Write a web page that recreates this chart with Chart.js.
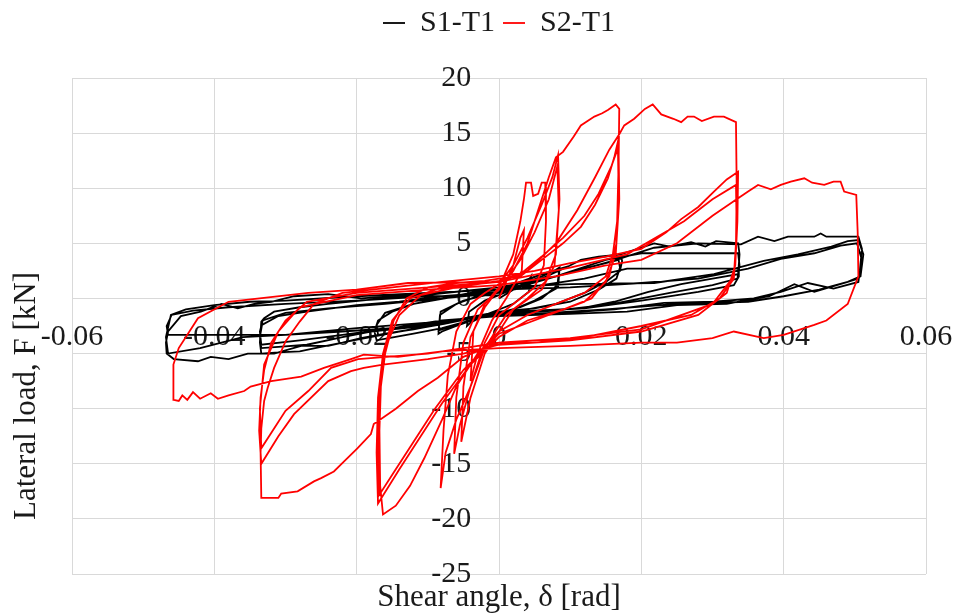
<!DOCTYPE html>
<html>
<head>
<meta charset="utf-8">
<title>Lateral load vs shear angle</title>
<script src="https://cdn.jsdelivr.net/npm/chart.js@4.4.1/dist/chart.umd.min.js"></script>
<style>
  html, body { margin: 0; padding: 0; background: #fff; }
</style>
</head>
<body>
<canvas id="chart" width="957" height="614"></canvas>
<script>
// axis ticks
const xTickValues = [-0.06, -0.04, -0.02, 0, 0.02, 0.04, 0.06];
const xTickLabels = ['-0.06', '-0.04', '-0.02', '0', '0.02', '0.04', '0.06'];
const yTickValues = [-25, -20, -15, -10, -5, 0, 5, 10, 15, 20];
const yTickLabels = ['-25', '-20', '-15', '-10', '-5', '0', '5', '10', '15', '20'];

const xTitle = 'Shear angle, \u03b4 [rad]';
const yTitle = 'Lateral load, F [kN]';

// S1-T1: [shear angle, load]
const s1Small = [
  [0, 0], [0.002, 0.8], [0.004, 1.5], [0.0045, 2], [0.0042, 0.6], [0.002, -0.5], [0, -1],
  [-0.002, -1.5], [-0.004, -2.2], [-0.0045, -2.5], [-0.0042, -1.2], [-0.002, -0.2], [0, 0.3],
  [0.003, 1.2], [0.006, 2], [0.008, 2.6], [0.0085, 2.8], [0.0082, 1.2], [0.006, 0], [0.003, -0.8],
  [0, -1.3], [-0.003, -1.8], [-0.006, -2.5], [-0.008, -3], [-0.0085, -3.2], [-0.0083, -1.5],
  [-0.006, -0.5], [-0.003, 0.2], [0, 0.6],
  [0.003, 1.4], [0.006, 2.2], [0.0085, 2.6], [0.0083, 1], [0.005, -0.2], [0.002, -1], [-0.002, -1.6],
  [-0.005, -2.2], [-0.0085, -2.9], [-0.0082, -1.2], [-0.005, -0.2], [0, 0.6]
];
const s1Mid = [
  [0.003, 1.5], [0.006, 2.2], [0.0097, 2.9], [0.0115, 3.5], [0.014, 3.8], [0.0171, 4], [0.0173, 3.4],
  [0.017, 2.5], [0.015, 1.5], [0.012, 0.5], [0.008, -0.5], [0.004, -1], [0, -1.3], [-0.004, -2],
  [-0.008, -2.7], [-0.012, -3.2], [-0.0155, -3.6], [-0.0172, -3.8], [-0.0175, -3], [-0.017, -2],
  [-0.015, -1.2], [-0.012, -0.5], [-0.008, 0], [-0.004, 0.5], [0, 0.8],
  [0.004, 1.3], [0.008, 2], [0.012, 2.7], [0.015, 3.2], [0.0168, 3.5], [0.017, 2.8], [0.0165, 1.8],
  [0.014, 0.8], [0.01, -0.3], [0.005, -0.9], [0, -1.2], [-0.005, -1.8], [-0.01, -2.5], [-0.014, -3],
  [-0.017, -3.3], [-0.0172, -2.4], [-0.016, -1.3], [-0.012, -0.5], [-0.006, 0.2], [0, 0.6],
  [0.005, 1.5], [0.0097, 2.9], [0.0115, 3.5], [0.0171, 4], [0.0218, 5], [0.024, 4.7], [0.027, 5.1],
  [0.029, 4.7], [0.0305, 5.2], [0.0336, 5], [0.0338, 4], [0.0336, 2.2], [0.03, 1.8], [0.0256, 1.3],
  [0.021, 0.6], [0.0162, -0.3], [0.0115, -0.9], [0.0021, -1.2], [-0.004, -1.8], [-0.008, -2.3],
  [-0.012, -2.8], [-0.016, -3.2], [-0.0194, -3.6], [-0.022, -4], [-0.025, -4.4], [-0.028, -4.8],
  [-0.031, -4.9], [-0.0334, -5], [-0.0336, -4], [-0.0334, -2.1], [-0.033, -1.8], [-0.0316, -1.2],
  [-0.028, -0.8], [-0.024, -0.5], [-0.018, -0.1], [-0.012, 0.2], [-0.006, 0.6], [0, 1],
  [0.008, 2], [0.015, 3.5], [0.02, 4.1], [0.028, 4.1], [0.0336, 4.1], [0.0338, 3], [0.0335, 1.8],
  [0.03, 1.2], [0.024, 0.5], [0.016, -0.5], [0.008, -1.1], [0, -1.4], [-0.006, -2], [-0.012, -2.6],
  [-0.018, -3], [-0.022, -3.5], [-0.027, -4.2], [-0.031, -4.4], [-0.0334, -4.5], [-0.0336, -3.5],
  [-0.0333, -2.4], [-0.031, -1.6], [-0.027, -1.2], [-0.02, -0.6], [-0.014, -0.3], [-0.008, 0.2], [0, 0.6],
  [0.006, 1.2], [0.012, 1.8], [0.018, 2.7], [0.025, 2.7], [0.0336, 2.7], [0.0337, 2], [0.033, 1.2],
  [0.028, 0.6], [0.02, -0.2], [0.012, -0.9], [0, -1.3], [-0.008, -2.2], [-0.015, -2.7], [-0.022, -3.3],
  [-0.028, -3.8], [-0.0334, -4.2], [-0.0336, -3], [-0.0332, -2], [-0.03, -1.3], [-0.024, -0.9],
  [-0.016, -0.5], [-0.008, 0], [0, 0.5]
];
const s1Large = [
  [0.008, 2], [0.016, 3.4], [0.0218, 4.6], [0.028, 5], [0.034, 4.9], [0.0364, 5.6], [0.0387, 5.2],
  [0.0406, 5.6], [0.0443, 5.6], [0.0452, 5.9], [0.046, 5.6], [0.0505, 5.6], [0.051, 4.5], [0.0507, 2.5],
  [0.0505, 1.5], [0.047, 0.9], [0.0434, 1.4], [0.0396, 0.6], [0.0358, 0], [0.0302, -0.3], [0.0232, -0.4],
  [0.0162, -1], [0.0069, -1.4], [-0.0015, -1.5], [-0.0077, -2.3], [-0.014, -3], [-0.0212, -3.9],
  [-0.024, -4.3], [-0.0278, -4.3], [-0.0316, -5], [-0.0353, -5], [-0.038, -5.5], [-0.0405, -5.3],
  [-0.0423, -5.7], [-0.0457, -5.5], [-0.0467, -5], [-0.0468, -4], [-0.0465, -3], [-0.0447, -1.6],
  [-0.0419, -1.2], [-0.039, -0.5], [-0.0367, -0.9], [-0.0344, -0.5], [-0.032, -0.3], [-0.0288, 0.2],
  [-0.024, 0.4], [-0.0194, 0], [-0.0148, 0.2], [-0.01, 0.4], [-0.0063, 0.6], [0, 1],
  [0.01, 1.3], [0.0218, 1.4], [0.0302, 2.2], [0.0372, 3.4], [0.042, 4], [0.0467, 4.7], [0.049, 5.2],
  [0.0505, 5.3], [0.0512, 4], [0.0508, 2], [0.049, 1.5], [0.0443, 0.6], [0.0415, 1.3], [0.038, 0.2],
  [0.032, -0.5], [0.025, -0.6], [0.018, -1.2], [0.01, -1.4], [0, -1.6], [-0.008, -2], [-0.015, -2.7],
  [-0.022, -3], [-0.03, -3.3], [-0.036, -3.5], [-0.042, -4.5], [-0.0465, -5], [-0.0468, -3.5],
  [-0.0461, -1.5], [-0.044, -1], [-0.04, -0.6], [-0.035, -0.3], [-0.03, -0.2], [-0.02, 0.2],
  [-0.01, 0.5], [0, 0.8],
  [0.01, 1], [0.02, 1.4], [0.028, 1.8], [0.035, 2.7], [0.0396, 3.6], [0.0443, 4.1], [0.048, 4.8],
  [0.0503, 5], [0.051, 3.5], [0.0505, 1.8], [0.049, 1.5], [0.045, 0.8], [0.04, 0.2], [0.035, -0.3],
  [0.025, -0.5], [0.015, -1], [0.005, -1.4], [0, -1.5], [-0.01, -2.2], [-0.02, -2.7], [-0.03, -3.3],
  [-0.038, -3.3], [-0.0465, -3.3], [-0.0467, -2.5], [-0.046, -1.5], [-0.043, -1.1], [-0.038, -0.8],
  [-0.03, -0.5], [-0.02, -0.2], [-0.01, 0.2], [0, 0.3]
];

// S2-T1: [shear angle, load]
const s2Small = [
  [0, 0], [0.002, 3], [0.003, 5.5], [0.0035, 6.2], [0.0032, 2.5], [0.001, 0], [-0.001, -2], [-0.003, -5],
  [-0.004, -7.5], [-0.0036, -3], [-0.002, -0.5], [0, 1],
  [0.002, 4], [0.003, 7], [0.0035, 9], [0.0038, 10.5], [0.0045, 10.5], [0.0048, 9.3], [0.0055, 9.5],
  [0.006, 10.5], [0.0065, 10.5], [0.0066, 7], [0.0063, 3], [0.005, 1], [0.003, 0], [0, -1.5],
  [-0.002, -4], [-0.004, -8], [-0.006, -11], [-0.0075, -14], [-0.0082, -17.2], [-0.0078, -12],
  [-0.0072, -7], [-0.006, -3], [-0.004, -0.5], [-0.002, 0.5], [0, 1.3],
  [0.002, 3], [0.004, 5.5], [0.006, 8.5], [0.0075, 11], [0.0083, 13], [0.0085, 9], [0.008, 4],
  [0.0065, 1.5], [0.004, 0], [0.001, -1.5], [-0.002, -4.5], [-0.004, -8], [-0.0055, -11.5],
  [-0.0063, -14.1], [-0.006, -9], [-0.005, -4], [-0.003, -1], [0, 0.8],
  [0.003, 3.5], [0.005, 6], [0.007, 9], [0.0082, 12], [0.0084, 8], [0.0078, 3], [0.006, 0.8],
  [0.002, -1], [-0.002, -5], [-0.004, -9], [-0.0053, -13], [-0.005, -8], [-0.004, -3.5],
  [-0.002, -0.8], [0, 0.9]
];
const s2Mid = [
  [0.002, 2.5], [0.004, 5], [0.0055, 8], [0.007, 11], [0.008, 12.8], [0.009, 13.3], [0.0105, 14.7],
  [0.0115, 15.7], [0.0134, 16.5], [0.0145, 16.8], [0.0153, 17.1], [0.0164, 17.6], [0.0169, 17.2],
  [0.0168, 12], [0.0166, 7], [0.016, 4], [0.015, 2], [0.012, 0.5], [0.008, -0.5], [0.004, -1.5],
  [0, -3], [-0.003, -5], [-0.006, -8], [-0.008, -11], [-0.0105, -14.5], [-0.0125, -17],
  [-0.0145, -18.8], [-0.0163, -19.6], [-0.0167, -17], [-0.0168, -12], [-0.0166, -8], [-0.016, -5],
  [-0.0148, -2], [-0.013, 0], [-0.01, 1], [-0.006, 1.4], [-0.002, 1.6], [0, 1.8],
  [0.003, 2], [0.006, 3.5], [0.009, 5], [0.0115, 6.5], [0.0135, 8.5], [0.0153, 10.9], [0.0162, 12.8],
  [0.0167, 14.2], [0.0168, 10], [0.0165, 5], [0.0155, 2], [0.013, 0], [0.009, -1], [0.004, -2],
  [0, -3.5], [-0.004, -6], [-0.008, -9.5], [-0.011, -12.5], [-0.014, -15.5], [-0.017, -18.6],
  [-0.0172, -14], [-0.017, -9], [-0.0163, -5], [-0.015, -2], [-0.0125, 0], [-0.008, 1], [0, 1.5],
  [0.003, 2.2], [0.006, 3.8], [0.009, 5.5], [0.012, 7.5], [0.014, 9.5], [0.0158, 12], [0.0168, 13.8],
  [0.0169, 9], [0.0164, 4], [0.015, 1.5], [0.012, -0.3], [0.007, -1.5], [0, -3.2], [-0.005, -6.5],
  [-0.009, -10], [-0.012, -13], [-0.015, -16], [-0.0168, -17.8], [-0.017, -13], [-0.0167, -8],
  [-0.016, -4.5], [-0.014, -1.5], [-0.011, 0.3], [-0.006, 1], [0, 1.6]
];
const s2Large = [
  [0.004, 2.5], [0.008, 5], [0.011, 8], [0.0135, 11], [0.0155, 13.5], [0.0169, 14.9], [0.0176, 15.7],
  [0.019, 16.3], [0.0205, 17.2], [0.0216, 17.6], [0.0228, 16.7], [0.0245, 16.3], [0.0256, 16],
  [0.0265, 16.5], [0.0274, 16.5], [0.0285, 16.1], [0.0302, 16.5], [0.0316, 16.5], [0.0333, 16],
  [0.0334, 10], [0.0333, 5], [0.033, 1.8], [0.031, 0], [0.027, -1.5], [0.02, -2.5], [0.012, -3.5],
  [0.005, -4], [0, -4], [-0.005, -5.3], [-0.0086, -7.2], [-0.0114, -8.4], [-0.0145, -10],
  [-0.0176, -11.4], [-0.018, -12.3], [-0.0199, -13.6], [-0.0218, -14.8], [-0.0232, -15.7],
  [-0.025, -16.3], [-0.026, -16.6], [-0.0283, -17.5], [-0.0306, -17.7], [-0.031, -18.1],
  [-0.0334, -18.1], [-0.0335, -14], [-0.0334, -11.8], [-0.033, -9.3], [-0.0325, -8.1],
  [-0.0316, -6.3], [-0.03, -3.9], [-0.028, -2.1], [-0.026, -0.5], [-0.022, 0.5], [-0.015, 1],
  [-0.008, 1.5], [0, 2],
  [0.005, 2.5], [0.01, 3.2], [0.015, 3.8], [0.02, 4.5], [0.0235, 6], [0.0256, 7.2], [0.028, 8.3],
  [0.0302, 9.7], [0.032, 10.8], [0.0336, 11.5], [0.0335, 7], [0.0332, 3], [0.032, 0.5], [0.028, -1.5],
  [0.02, -3], [0.01, -3.8], [0, -4.2], [-0.005, -5], [-0.01, -5.5], [-0.0163, -6], [-0.019, -6.3],
  [-0.0208, -6.6], [-0.024, -7.5], [-0.0288, -10.5], [-0.031, -12.5], [-0.0334, -15],
  [-0.0337, -12], [-0.0335, -9], [-0.033, -6.5], [-0.032, -4], [-0.03, -2], [-0.027, -0.3],
  [-0.02, 0.5], [-0.01, 1], [0, 1.5],
  [0.01, 2.8], [0.018, 4], [0.022, 5.5], [0.026, 7], [0.03, 9], [0.0333, 10.3], [0.0334, 6],
  [0.033, 2], [0.03, -0.5], [0.02, -2.8], [0.01, -3.6], [0, -4], [-0.01, -5], [-0.0198, -5.5],
  [-0.0236, -6.3], [-0.0268, -8.4], [-0.03, -10.2], [-0.0334, -13.6], [-0.0336, -10], [-0.033, -6],
  [-0.031, -3], [-0.028, -0.8], [-0.02, 0.3], [-0.01, 0.8], [0, 1.2],
  [0.008, 2], [0.015, 3], [0.02, 3.5], [0.025, 5], [0.03, 7.5], [0.0336, 9.1], [0.035, 9.7],
  [0.0364, 10.3], [0.0382, 9.9], [0.0396, 10.3], [0.041, 10.6], [0.0429, 10.9], [0.044, 10.5],
  [0.0457, 10.3], [0.047, 10.6], [0.048, 10.6], [0.0485, 9.7], [0.0502, 9.4], [0.0504, 6],
  [0.0505, 2], [0.049, -0.5], [0.046, -2], [0.0443, -2.4], [0.04, -3.3], [0.0372, -3.6],
  [0.033, -3], [0.03, -3.6], [0.025, -4], [0.02, -4], [0.01, -4.3], [0, -4.5], [-0.008, -4.8],
  [-0.0142, -5.3], [-0.019, -5.1], [-0.0208, -5.5], [-0.0246, -6.3], [-0.0278, -7.1], [-0.032, -7.5],
  [-0.0349, -8], [-0.0358, -8.4], [-0.038, -8.8], [-0.0395, -9.1], [-0.0405, -8.6], [-0.042, -9.1],
  [-0.043, -8.5], [-0.0438, -9.2], [-0.0445, -8.8], [-0.045, -9.3], [-0.0457, -9.2],
  [-0.0458, -7.5], [-0.0457, -6], [-0.045, -4.5], [-0.0423, -1.8], [-0.038, -0.3], [-0.0268, 0.5],
  [-0.02, 0.8], [-0.0128, 1.4], [0, 1.5]
];

const toPoints = rows => rows.map(([x, y]) => ({x, y}));
const s1Points = toPoints([...s1Small, ...s1Mid, ...s1Large]);
const s2Points = toPoints([...s2Small, ...s2Mid, ...s2Large]);

const serif = 'Liberation Serif, Times New Roman, serif';
const textColor = '#1a1a1a';
const gridColor = '#d9d9d9';

// pushes the plot down below the legend
const legendGap = {
  id: 'legendGap',
  beforeInit(chart) {
    const fit = chart.legend.fit;
    chart.legend.fit = function () {
      fit.bind(chart.legend)();
      this.height += 30;
    };
  }
};

// axis titles sit at the chart edges, the tick labels sit next to zero
const axisTitles = {
  id: 'axisTitles',
  afterDraw(chart) {
    const {ctx, chartArea} = chart;
    ctx.save();
    ctx.fillStyle = textColor;
    ctx.font = '31px ' + serif;
    ctx.textAlign = 'center';
    ctx.textBaseline = 'middle';
    ctx.fillText(xTitle, (chartArea.left + chartArea.right) / 2, 598);
    ctx.translate(27, 396);
    ctx.rotate(-Math.PI / 2);
    ctx.fillText(yTitle, 0, 0);
    ctx.restore();
  }
};

const ctx = document.getElementById('chart').getContext('2d');
const chart = new Chart(ctx, {
  type: 'scatter',
  data: {
    datasets: [
      {
        label: 'S1-T1',
        data: s1Points,
        showLine: true,
        borderColor: '#000000',
        backgroundColor: '#000000',
        borderWidth: 1.8,
        pointRadius: 0,
        order: 1
      },
      {
        label: 'S2-T1',
        data: s2Points,
        showLine: true,
        borderColor: '#ff0000',
        backgroundColor: '#ff0000',
        borderWidth: 1.8,
        pointRadius: 0,
        order: 0
      }
    ]
  },
  options: {
    responsive: false,
    animation: false,
    layout: {
      padding: {left: 72, right: 31, top: 0, bottom: 40}
    },
    scales: {
      x: {
        type: 'linear',
        min: -0.06,
        max: 0.06,
        // labels hang a little below the zero line, which is drawn by the grid
        position: {y: -1.9},
        afterBuildTicks: axis => { axis.ticks = xTickValues.map(v => ({value: v})); },
        grid: {color: gridColor, drawTicks: false},
        border: {display: false},
        ticks: {
          autoSkip: false,
          maxRotation: 0,
          padding: 0,
          color: textColor,
          font: {family: serif, size: 30},
          callback: (v, i) => xTickLabels[i]
        }
      },
      y: {
        type: 'linear',
        min: -25,
        max: 20,
        // labels end a little left of the zero line
        position: {x: -0.0039},
        afterBuildTicks: axis => { axis.ticks = yTickValues.map(v => ({value: v})); },
        grid: {color: gridColor, drawTicks: false},
        border: {display: false},
        ticks: {
          autoSkip: false,
          padding: 0,
          color: textColor,
          font: {family: serif, size: 30},
          callback: (v, i) => yTickLabels[i]
        }
      }
    },
    plugins: {
      legend: {
        display: true,
        position: 'top',
        labels: {
          usePointStyle: true,
          pointStyle: 'line',
          pointStyleWidth: 22,
          padding: 8,
          color: textColor,
          font: {family: serif, size: 30},
          sort: (a, b) => a.datasetIndex - b.datasetIndex
        }
      },
      tooltip: {enabled: false}
    }
  },
  plugins: [legendGap, axisTitles]
});
</script>
</body>
</html>
